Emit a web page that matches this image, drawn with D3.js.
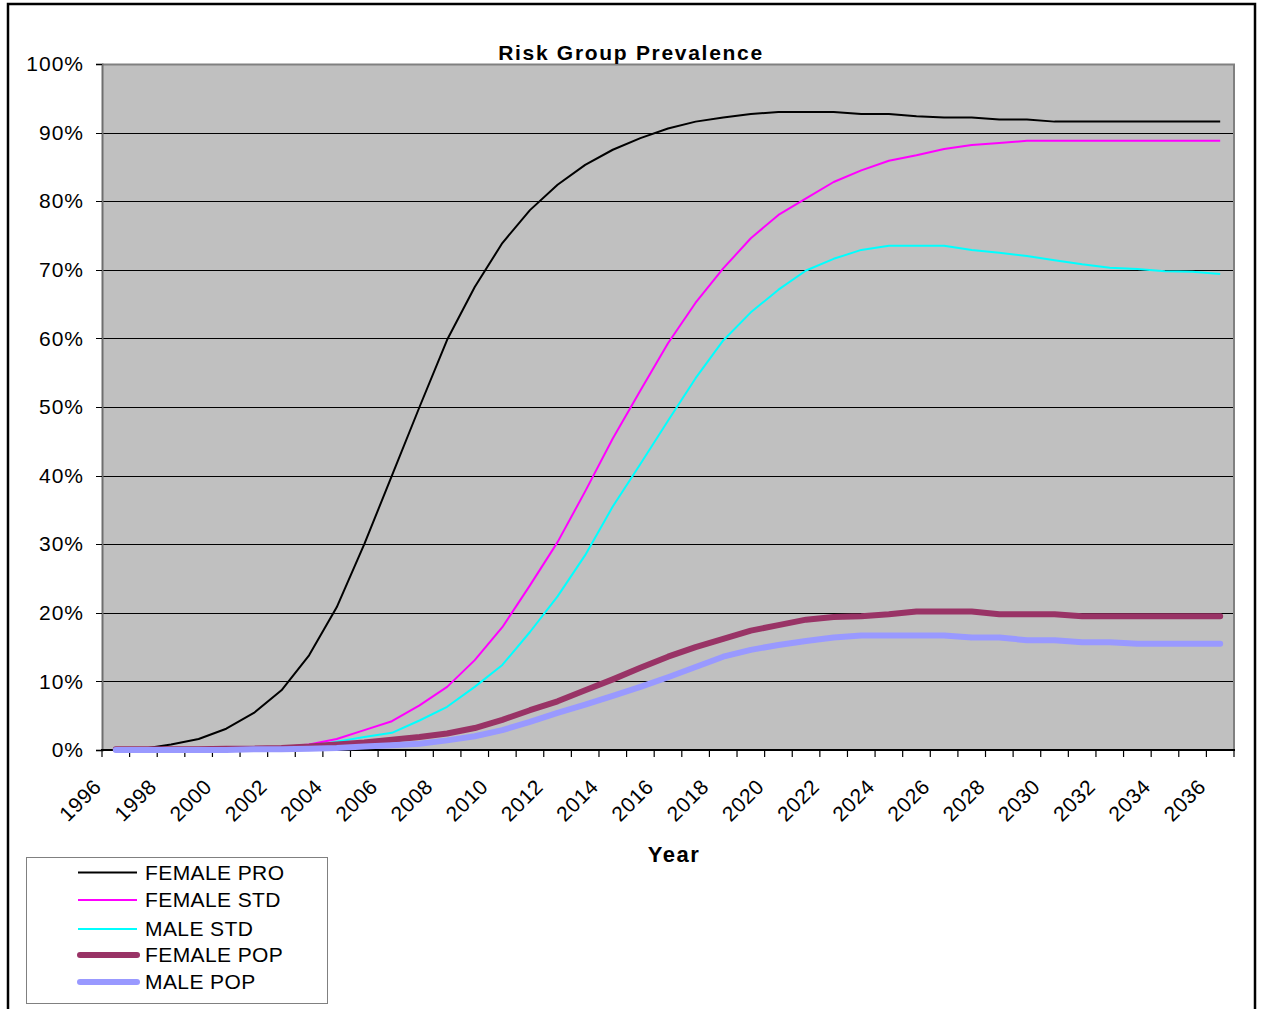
<!DOCTYPE html>
<html>
<head>
<meta charset="utf-8">
<title>Risk Group Prevalence</title>
<script src="https://cdn.jsdelivr.net/npm/d3@7/dist/d3.min.js"></script>
<style>
  html, body { margin: 0; padding: 0; background: #ffffff; }
  svg { display: block; font-family: "Liberation Sans", Arial, sans-serif; }
</style>
</head>
<body>
<svg id="chart" width="1261" height="1009"></svg>
<script>
// Years on the category axis
const years = d3.range(1996, 2037);
const labelYears = years.filter(y => (y - 1996) % 2 === 0);
const yTicks = d3.range(0, 11).map(k => k / 10);

// Prevalence by risk group, in percent, one value per year 1996-2036
const femalePro = [0.0, 0.2, 0.8, 1.6, 3.1, 5.4, 8.7, 13.8, 20.8, 30.0,
  40.0, 50.0, 59.8, 67.5, 73.9, 78.7, 82.4, 85.3, 87.5, 89.2,
  90.6, 91.6, 92.2, 92.7, 93.0, 93.0, 93.0, 92.7, 92.7, 92.4,
  92.2, 92.2, 91.9, 91.9, 91.6, 91.6, 91.6, 91.6, 91.6, 91.6, 91.6];
const femaleStd = [0.0, 0.0, 0.0, 0.0, 0.1, 0.2, 0.4, 0.8, 1.6, 2.9,
  4.2, 6.5, 9.2, 13.1, 17.9, 24.0, 30.3, 37.7, 45.4, 52.4,
  59.3, 65.2, 70.2, 74.6, 78.0, 80.4, 82.8, 84.5, 85.9, 86.7,
  87.6, 88.2, 88.5, 88.8, 88.8, 88.8, 88.8, 88.8, 88.8, 88.8, 88.8];
const maleStd = [0.0, 0.0, 0.0, 0.0, 0.1, 0.1, 0.2, 0.5, 1.2, 1.9,
  2.5, 4.3, 6.3, 9.2, 12.4, 17.2, 22.4, 28.4, 35.5, 41.7,
  48.0, 54.2, 59.7, 63.8, 67.1, 69.9, 71.6, 72.9, 73.5, 73.5,
  73.5, 72.9, 72.5, 72.0, 71.4, 70.8, 70.3, 70.1, 69.8, 69.7, 69.4];
const femalePop = [0.1, 0.1, 0.1, 0.1, 0.2, 0.2, 0.3, 0.5, 0.8, 1.1,
  1.5, 1.9, 2.4, 3.2, 4.4, 5.8, 7.1, 8.7, 10.3, 12.0,
  13.6, 15.0, 16.2, 17.4, 18.2, 19.0, 19.4, 19.5, 19.8, 20.2,
  20.2, 20.2, 19.8, 19.8, 19.8, 19.5, 19.5, 19.5, 19.5, 19.5, 19.5];
const malePop = [0.0, 0.0, 0.0, 0.0, 0.0, 0.1, 0.1, 0.2, 0.3, 0.5,
  0.7, 0.9, 1.4, 2.0, 2.9, 4.1, 5.4, 6.6, 7.9, 9.2,
  10.6, 12.1, 13.6, 14.6, 15.3, 15.9, 16.4, 16.7, 16.7, 16.7,
  16.7, 16.4, 16.4, 16.0, 16.0, 15.7, 15.7, 15.5, 15.5, 15.5, 15.5];

const seriesNames = ["FEMALE PRO", "FEMALE STD", "MALE STD", "FEMALE POP", "MALE POP"];
const seriesValues = [femalePro, femaleStd, maleStd, femalePop, malePop];
const seriesColors = ["#000000", "#ff00ff", "#00ffff", "#993366", "#9999ff"];
const seriesWidths = [2, 2, 2, 6, 6];

const svg = d3.select("#chart");
const plot = { left: 102, right: 1234, top: 64, bottom: 750 };

const x = d3.scaleBand().domain(years).range([plot.left, plot.right]);
const y = d3.scaleLinear().domain([0, 1]).range([plot.bottom, plot.top]);
const cx = yr => x(yr) + x.bandwidth() / 2;

// Outer chart frame
svg.append("rect")
  .attr("x", 8).attr("y", 4)
  .attr("width", 1247).attr("height", 1030)
  .attr("fill", "#ffffff").attr("stroke", "#000000").attr("stroke-width", 2.5);

// Plot background
svg.append("rect")
  .attr("x", plot.left).attr("y", plot.top)
  .attr("width", plot.right - plot.left).attr("height", plot.bottom - plot.top)
  .attr("fill", "#c0c0c0");

// Horizontal gridlines
svg.append("g")
  .attr("transform", `translate(${plot.left},0)`)
  .call(d3.axisLeft(y).tickValues(yTicks.slice(1, 10)).tickSize(-(plot.right - plot.left)).tickFormat(""))
  .call(g => g.select(".domain").remove())
  .call(g => g.selectAll("line").attr("stroke", "#000000").attr("stroke-width", 1).attr("shape-rendering", "crispEdges"));

// Plot border (top and right)
svg.append("path")
  .attr("d", `M${plot.left},${plot.top + 0.5}H${plot.right}V${plot.bottom}`)
  .attr("fill", "none").attr("stroke", "#808080").attr("stroke-width", 2);

// Y axis
const yAxis = svg.append("g")
  .attr("transform", `translate(${plot.left},0)`)
  .call(d3.axisLeft(y).tickValues(yTicks).tickFormat(d3.format(".0%")).tickSize(6).tickPadding(12));
yAxis.select(".domain").attr("stroke", "#6e6e6e").attr("stroke-width", 2);
yAxis.selectAll(".tick line").attr("stroke", "#000000").attr("shape-rendering", "crispEdges");
yAxis.selectAll(".tick text")
  .attr("font-size", 21).attr("fill", "#000000")
  .attr("letter-spacing", 1)
  .attr("font-family", "'Liberation Sans', Arial, sans-serif");

// X axis line and tick marks at category boundaries
const xAxis = svg.append("g").attr("transform", `translate(0,${plot.bottom})`);
xAxis.append("line")
  .attr("x1", plot.left - 1).attr("x2", plot.right + 1)
  .attr("stroke", "#000000").attr("stroke-width", 2);
xAxis.selectAll("line.tickmark")
  .data(years.concat([null]))
  .join("line")
  .attr("class", "tickmark")
  .attr("x1", d => d === null ? plot.right : x(d))
  .attr("x2", d => d === null ? plot.right : x(d))
  .attr("y1", 0).attr("y2", 7)
  .attr("stroke", "#000000").attr("stroke-width", 1.2);

// Rotated year labels
xAxis.selectAll("text.year")
  .data(labelYears)
  .join("text")
  .attr("class", "year")
  .attr("text-anchor", "end")
  .attr("font-size", 21)
  .attr("letter-spacing", 0.6)
  .attr("transform", d => `translate(${cx(d) - 13},${38}) rotate(-45)`)
  .text(d => d);

// Series lines
const line = d3.line()
  .x((d, i) => cx(years[i]))
  .y(d => y(d / 100));

svg.append("g")
  .selectAll("path")
  .data(seriesValues)
  .join("path")
  .attr("d", d => line(d))
  .attr("fill", "none")
  .attr("stroke", (d, i) => seriesColors[i])
  .attr("stroke-width", (d, i) => seriesWidths[i])
  .attr("stroke-linejoin", "round")
  .attr("stroke-linecap", (d, i) => seriesWidths[i] > 3 ? "round" : "butt");

// Titles
svg.append("text")
  .attr("x", 631).attr("y", 60)
  .attr("text-anchor", "middle")
  .attr("font-size", 21).attr("font-weight", "bold")
  .attr("letter-spacing", 1.7)
  .text("Risk Group Prevalence");

svg.append("text")
  .attr("x", 674).attr("y", 862)
  .attr("text-anchor", "middle")
  .attr("font-size", 22).attr("font-weight", "bold")
  .attr("letter-spacing", 1.5)
  .text("Year");

// Legend
const legend = svg.append("g");
legend.append("rect")
  .attr("x", 26.5).attr("y", 857.5)
  .attr("width", 301).attr("height", 146)
  .attr("fill", "#ffffff").attr("stroke", "#808080").attr("stroke-width", 1);

const legendRows = [872.5, 900, 929, 955, 982];
const items = legend.selectAll("g.item")
  .data(seriesNames)
  .join("g")
  .attr("class", "item")
  .attr("transform", (d, i) => `translate(0,${legendRows[i]})`);
items.append("line")
  .attr("x1", (d, i) => seriesWidths[i] > 3 ? 80 : 78)
  .attr("x2", 137)
  .attr("stroke", (d, i) => seriesColors[i])
  .attr("stroke-width", (d, i) => seriesWidths[i])
  .attr("stroke-linecap", (d, i) => seriesWidths[i] > 3 ? "round" : "butt");
items.append("text")
  .attr("x", 145).attr("y", 7)
  .attr("font-size", 21)
  .attr("letter-spacing", 0.4)
  .text(d => d);
</script>
</body>
</html>
